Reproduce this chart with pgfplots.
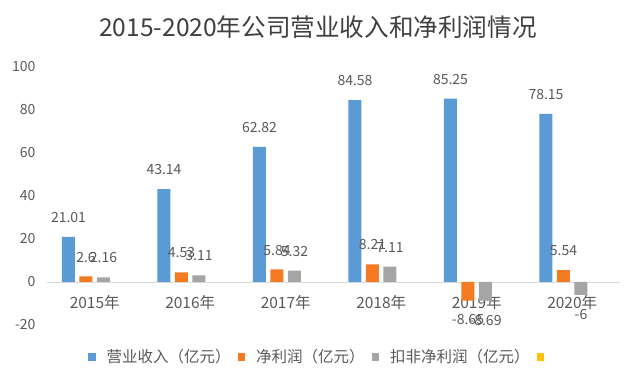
\documentclass[border=0pt]{standalone}
\usepackage{pgfplots}
\pgfplotsset{compat=1.18}
\usepackage{fontspec}
\setmainfont{Noto Sans CJK SC}
\definecolor{cBlue}{HTML}{5B9BD5}
\definecolor{cOrange}{HTML}{F57B23}
\definecolor{cGray}{HTML}{A5A5A5}
\definecolor{cYellow}{HTML}{FFC000}
\definecolor{cText}{HTML}{595959}
\definecolor{cTitle}{HTML}{404040}
\definecolor{cLine}{HTML}{D9D9D9}
\begin{document}
\begin{tikzpicture}[x=1pt,y=1pt]
\useasboundingbox (0,0) rectangle (640,382);
\begin{axis}[
  at={(47pt,57pt)}, anchor=south west,
  scale only axis, width=573pt, height=258pt,
  xmin=-0.5, xmax=5.5, ymin=-20, ymax=100,
  ybar, bar width=13pt,
  axis x line=middle, axis y line=left,
  x axis line style={draw=cLine, line width=0.8pt, -},
  y axis line style={draw=none},
  major tick length=0pt,
  xtick={0,1,2,3,4,5},
  xticklabels={2015年,2016年,2017年,2018年,2019年,2020年},
  ytick={-20,0,20,40,60,80,100},
  /pgf/number format/assume math mode=true,
  tick label style={font=\fontsize{14}{16}\selectfont, text=cText},
  xticklabel style={yshift=-10pt, font=\fontsize{15.5}{17}\selectfont},
  yticklabel style={xshift=-8pt},
  nodes near coords={\pgfmathprintnumber[fixed,precision=2,assume math mode=true]{\pgfplotspointmeta}},
  nodes near coords align={vertical},
  every node near coord/.append style={font=\fontsize{14}{16}\selectfont, text=cText, inner ysep=14pt, inner xsep=0pt},
  legend image code/.code={\fill[#1] (0pt,-3.75pt) rectangle (7.5pt,3.75pt);},
  legend columns=4,
  legend style={at={(0.0663,-0.124)}, anchor=west, draw=none, fill=none,
    font=\fontsize{15.5}{17}\selectfont, text=cText,
    nodes={inner sep=0pt},
    /tikz/every even column/.append style={column sep=7pt},
    /tikz/every odd column/.append style={column sep=11pt}},
]
\addplot[fill=cBlue, draw=none, bar shift=-26.25pt] coordinates {(0,21.01) (1,43.14) (2,62.82) (3,84.58) (4,85.25) (5,78.15)};
\addlegendentry{营业收入（亿元）}
\addplot[fill=cOrange, draw=none, bar shift=-8.75pt] coordinates {(0,2.6) (1,4.53) (2,5.84) (3,8.21) (4,-8.65) (5,5.54)};
\addlegendentry{净利润（亿元）}
\addplot[fill=cGray, draw=none, bar shift=8.75pt] coordinates {(0,2.16) (1,3.11) (2,5.32) (3,7.11) (4,-8.69) (5,-6)};
\addlegendentry{扣非净利润（亿元）}
\addlegendimage{fill=cYellow, draw=none}
\addlegendentry{}
\end{axis}
\node[font=\fontsize{24.6}{28}\selectfont, text=cTitle] at (318,355) {2015-2020年公司营业收入和净利润情况};
\end{tikzpicture}
\end{document}
